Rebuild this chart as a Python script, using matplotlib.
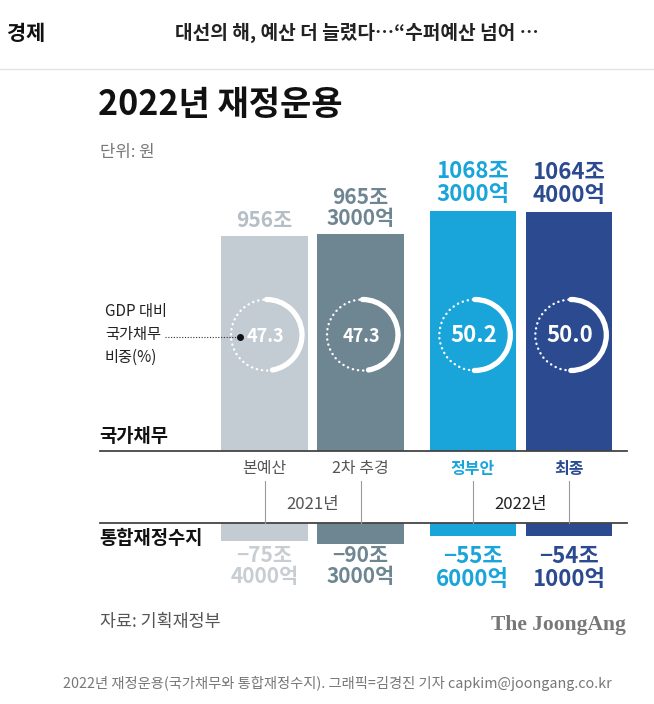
import matplotlib
matplotlib.use("Agg")
import matplotlib.pyplot as plt
from matplotlib.patches import Arc

plt.rcParams['font.family'] = ['Noto Sans CJK KR', 'DejaVu Sans']

# --- data -------------------------------------------------------------
categories = ['본예산', '2차 추경', '정부안', '최종']
years = ['2021년', '2022년']
debt = [956.0, 965.3, 1068.3, 1064.4]      # 국가채무 (조원)
balance = [-75.4, -90.3, -55.6, -54.1]     # 통합재정수지 (조원)
gdp_ratio = [47.3, 47.3, 50.2, 50.0]       # GDP 대비 국가채무 비중(%)
xpos = [0, 1, 2.17, 3.17]

headline = '대선의 해, 예산 더 늘렸다…“수퍼예산 넘어 …'
title = '2022년 재정운용'
caption = '2022년 재정운용(국가채무와 통합재정수지). 그래픽=김경진 기자 capkim@joongang.co.kr'

bar_colors = ['#c3ccd3', '#6e8592', '#1aa5da', '#2b4a8f']
label_colors = ['#b5bec5', '#6e8592', '#1aa5da', '#2b4a8f']
bal_label_colors = ['#c8cdd1', '#6e8592', '#1aa5da', '#2b4a8f']
cat_colors = ['#555555', '#555555', '#1aa5da', '#2b4a8f']


def jo_eok(v):
    sign = '−' if v < 0 else ''
    v = abs(v)
    jo = int(v)
    eok = round((v - jo) * 10000)
    return f'{sign}{jo}조' + (f'\n{eok}억' if eok else '')


# --- layout (pixels, y from top) ---------------------------------------
W, H = 654, 704
TOP_BASE, TOP_CEIL = 451, 150
BOT_BASE, BOT_FLOOR = 523, 600
PX_TOP = 0.2247   # px per 조원 (debt)
PX_BOT = 0.233    # px per 조원 (balance)
X0, X_UNIT = 264.5, 96
GAUGE_Y, GAUGE_R = 335, 35.5

fig = plt.figure(figsize=(W / 100, H / 100), dpi=100)
xlim = (-X0 / X_UNIT, (W - X0) / X_UNIT)

ax_top = fig.add_axes([0, 1 - TOP_BASE / H, 1, (TOP_BASE - TOP_CEIL) / H])
ax_top.set_xlim(xlim)
ax_top.set_ylim(0, (TOP_BASE - TOP_CEIL) / PX_TOP)
ax_top.bar(xpos, debt, width=0.9, color=bar_colors)
ax_top.axis('off')

ax_bot = fig.add_axes([0, 1 - BOT_FLOOR / H, 1, (BOT_FLOOR - BOT_BASE) / H])
ax_bot.set_xlim(xlim)
ax_bot.set_ylim(-(BOT_FLOOR - BOT_BASE) / PX_BOT, 0)
ax_bot.bar(xpos, balance, width=0.9, color=bar_colors)
ax_bot.axis('off')

cv = fig.add_axes([0, 0, 1, 1])
cv.set_xlim(0, W)
cv.set_ylim(H, 0)
cv.axis('off')


def to_cv(ax, x, y):
    dx, dy = ax.transData.transform((x, y))
    return dx, H - dy


# header
cv.text(7, 33, '경제', fontsize=15, weight='bold', va='center', color='#111111')
cv.text(357, 33, headline, fontsize=13.8, weight='bold', ha='center', va='center', color='#222222')
cv.plot([0, W], [69, 69], color='#e2e2e2', lw=1)

cv.text(98, 104, title, fontsize=24.5, weight='bold', va='center', color='#111111')
cv.text(100, 152, '단위: 원', fontsize=12, va='center', color='#777777')

# debt labels + gauges
centers = []
for i, v in enumerate(debt):
    cx, ty = to_cv(ax_top, xpos[i], v)
    centers.append(cx)
    fs = 15 if i < 2 else 16
    cv.text(cx, ty - 5, jo_eok(v), ha='center', va='bottom', fontsize=fs,
            weight='bold', color=label_colors[i], linespacing=1.0)

    span = gdp_ratio[i] * 3.6
    gx = cx + 2
    cv.add_patch(Arc((gx, GAUGE_Y), 2 * GAUGE_R, 2 * GAUGE_R, theta1=-90, theta2=-90 + span,
                     color='white', lw=3.8, capstyle='round'))
    cv.add_patch(Arc((gx, GAUGE_Y), 2 * GAUGE_R, 2 * GAUGE_R, theta1=-90 + span, theta2=270,
                     color='white', lw=1.7, linestyle=(0, (0.1, 2.1)), capstyle='round'))
    cv.text(gx - 1, GAUGE_Y + 1, f'{gdp_ratio[i]:.1f}', ha='center', va='center',
            color='white', weight='bold', fontsize=13 if i < 2 else 16)

# gauge annotation
cv.text(105, 334, 'GDP 대비\n국가채무\n비중(%)', fontsize=11, va='center',
        linespacing=1.45, color='#222222')
dot_x = centers[0] + 2 - 27
cv.plot([165, dot_x], [337, 337], color='#333333', lw=0.8, linestyle=(0, (1, 1.5)))
cv.plot([dot_x], [337], 'o', color='#111111', ms=4)

# section labels and rules
cv.text(99, 437, '국가채무', fontsize=13.5, weight='bold', va='center', color='#111111')
cv.plot([100, 627], [TOP_BASE, TOP_BASE], color='#444444', lw=1.3)
cv.plot([100, 627], [BOT_BASE, BOT_BASE], color='#444444', lw=1.3)
cv.text(99, 538, '통합재정수지', fontsize=13.5, weight='bold', va='center', color='#111111')

for i, cat in enumerate(categories):
    cx = centers[i]
    cv.text(cx, 469, cat, ha='center', va='center', fontsize=11.5,
            weight='normal' if i < 2 else 'bold', color=cat_colors[i])
    cv.plot([cx, cx], [481, BOT_BASE], color='#9a9a9a', lw=0.8)

cv.text((centers[0] + centers[1]) / 2, 505, years[0], ha='center', va='center',
        fontsize=12, color='#555555')
cv.text((centers[2] + centers[3]) / 2, 505, years[1], ha='center', va='center',
        fontsize=12, color='#222222')

# balance labels
for i, v in enumerate(balance):
    cx, by = to_cv(ax_bot, xpos[i], v)
    fs = 15 if i < 2 else 16
    cv.text(cx, 545, jo_eok(v), ha='center', va='top', fontsize=fs,
            weight='bold', color=bal_label_colors[i], linespacing=1.0)

# footer
cv.text(100, 622, '자료: 기획재정부', fontsize=12.5, va='center', color='#555555')
cv.text(626, 625, 'The JoongAng', ha='right', va='center', family='Liberation Serif',
        weight='bold', fontsize=15.5, color='#777777')
cv.text(337, 683, caption, ha='center', va='center', fontsize=10.3, color='#777777')

fig.savefig('out.png', dpi=100)
